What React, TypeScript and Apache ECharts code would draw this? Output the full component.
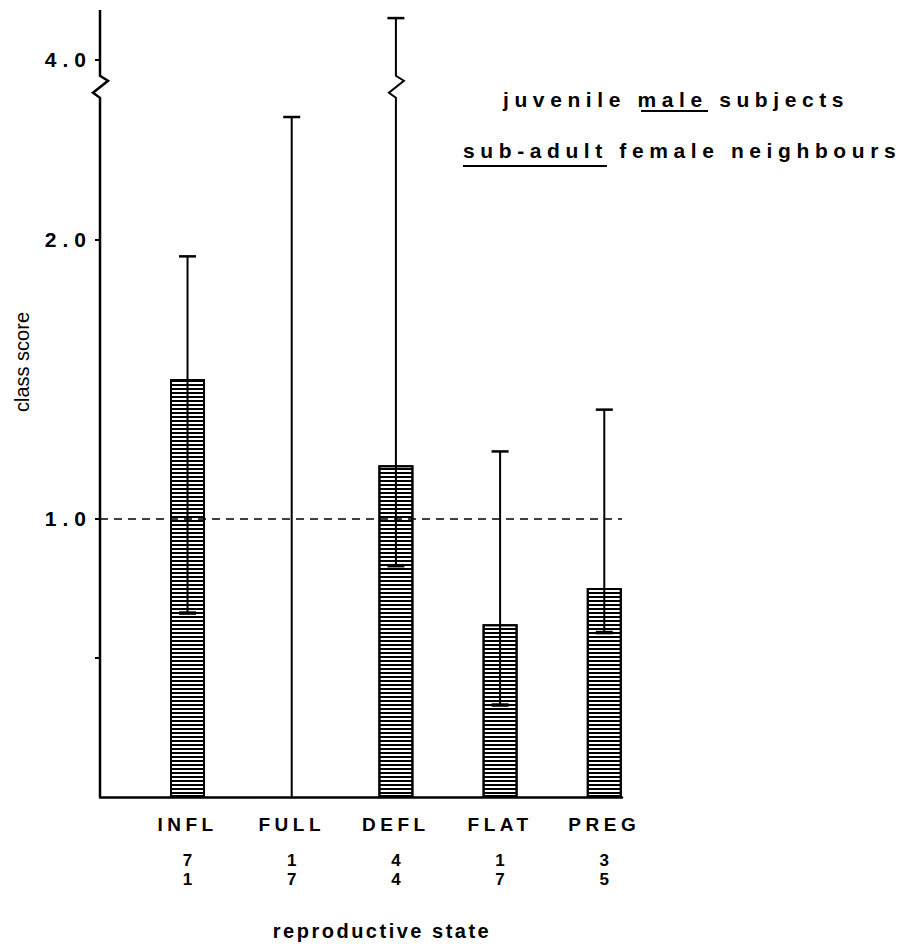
import React, { useEffect, useRef } from 'react';
import * as echarts from 'echarts';

// ---------------- data ----------------
const categories = ['INFL', 'FULL', 'DEFL', 'FLAT', 'PREG'];
const subjectCounts = [7, 1, 4, 1, 3];
const neighbourCounts = [1, 7, 4, 7, 5];
const meanScores: (number | null)[] = [1.5, null, 1.19, 0.62, 0.75];
const lowerLimits = [0.66, 0, 0.83, 0.33, 0.59];
const upperLimits = [1.94, 2.44, 4.15, 1.24, 1.39];
const yTickValues = [0.5, 1.0, 2.0, 4.0];
const yLabelValues = [1.0, 2.0, 4.0];
const referenceLevel = 1.0;
const titleLine1 = 'juvenile male subjects';
const titleLine2 = 'sub-adult female neighbours';

// ---------------- axis break (values between BREAK_FROM and BREAK_TO are cut out) ----------------
const BREAK_FROM = 2.5;
const BREAK_TO = 3.855;
const toDisplay = (v: number) => (v <= BREAK_FROM ? v : v - (BREAK_TO - BREAK_FROM));
const fromDisplay = (d: number) => (d <= BREAK_FROM ? d : d + (BREAK_TO - BREAK_FROM));
const ZIG_TOP = 2.588; // display value where the zigzag starts
const Y_MAX = 2.824;
const X_MIN = -0.84;
const X_MAX = 4.17;

const css = `
text[style*="TitleFace"] { letter-spacing: 5.6px; }
text[style*="TickFace"] { letter-spacing: 6px; }
text[style*="CatFace"] { letter-spacing: 4.5px; }
text[style*="NameFace"] { letter-spacing: 2.5px; }
`;

function zigzag(x: number, y: number): number[][] {
  return [
    [x, y],
    [x + 8, y + 5],
    [x - 7, y + 17],
    [x, y + 22],
  ];
}

export default function App() {
  const ref = useRef<HTMLDivElement>(null);

  useEffect(() => {
    if (!ref.current) return;
    const chart = echarts.init(ref.current, undefined, { renderer: 'svg' });

    const barData = categories.map((_, i) => [i, meanScores[i] == null ? null : toDisplay(meanScores[i] as number)]);
    const errData = categories.map((_, i) => [i, toDisplay(lowerLimits[i]), toDisplay(upperLimits[i])]);

    const option: any = {
      animation: false,
      backgroundColor: '#fff',
      grid: { left: 100, top: 10, width: 522, height: 788, containLabel: false },
      xAxis: {
        type: 'value',
        min: X_MIN,
        max: X_MAX,
        splitLine: { show: false },
        axisTick: { show: false },
        axisLine: { show: true, onZero: false, lineStyle: { color: '#000', width: 2.5 } },
        axisLabel: {
          customValues: categories.map((_, i) => i),
          margin: 0,
          formatter: (v: number) => {
            const i = Math.round(v);
            return `{c|${categories[i]}}\n{n|${subjectCounts[i]}}\n{n|${neighbourCounts[i]}}`;
          },
          rich: {
            c: { fontFamily: 'CatFace, Liberation Sans, sans-serif', fontWeight: 'bold', fontSize: 19, lineHeight: 54, color: '#000' },
            n: { fontFamily: 'Liberation Sans, sans-serif', fontWeight: 'bold', fontSize: 17, lineHeight: 19, color: '#000' },
          },
        },
        name: 'reproductive state',
        nameLocation: 'middle',
        nameGap: 124,
        nameTextStyle: {
          fontFamily: 'NameFace, Liberation Sans, sans-serif',
          fontWeight: 'bold',
          fontSize: 20,
          color: '#000',
          padding: [0, 0, 0, 42],
        },
      },
      yAxis: {
        type: 'value',
        min: 0,
        max: Y_MAX,
        splitLine: { show: false },
        axisLine: { show: false, onZero: false },
        axisTick: {
          show: true,
          customValues: yTickValues.map(toDisplay),
          length: 5,
          lineStyle: { color: '#000', width: 2 },
        },
        axisLabel: {
          customValues: yLabelValues.map(toDisplay),
          margin: 8,
          formatter: (v: number) => fromDisplay(v).toFixed(1),
          fontFamily: 'TickFace, Liberation Sans, sans-serif',
          fontWeight: 'bold',
          fontSize: 21,
          color: '#000',
        },
      },
      series: [
        {
          type: 'bar',
          data: barData,
          barWidth: 35,
          itemStyle: {
            color: '#fff',
            borderColor: '#000',
            borderWidth: 2,
            decal: {
              symbol: 'rect',
              symbolSize: 1,
              color: '#000',
              dashArrayX: [1, 0],
              dashArrayY: [2, 2],
              rotation: 0,
            },
          },
          markLine: {
            silent: true,
            symbol: 'none',
            label: { show: false },
            lineStyle: { color: '#000', type: [8, 6], width: 1.5 },
            data: [{ yAxis: toDisplay(referenceLevel) }],
          },
          z: 2,
        },
        {
          type: 'custom',
          name: 'error bars',
          data: errData,
          encode: { x: 0, y: [1, 2] },
          clip: false,
          z: 5,
          renderItem: (params: any, api: any) => {
            const i = api.value(0);
            const lo = api.value(1);
            const hi = api.value(2);
            const [x, yLo] = api.coord([i, lo]);
            const [, yHi] = api.coord([i, hi]);
            let pts: number[][];
            if (hi > BREAK_FROM) {
              const [, yz] = api.coord([i, ZIG_TOP]);
              pts = [[x, yHi], ...zigzag(x, yz), [x, yLo]];
            } else {
              pts = [[x, yHi], [x, yLo]];
            }
            const children: any[] = [
              { type: 'polyline', shape: { points: pts }, style: { stroke: '#000', lineWidth: 2, fill: 'none' } },
              { type: 'line', shape: { x1: x - 8.5, y1: yHi, x2: x + 8.5, y2: yHi }, style: { stroke: '#000', lineWidth: 2.5 } },
            ];
            if (lo > 0) {
              children.push({ type: 'line', shape: { x1: x - 8.5, y1: yLo, x2: x + 8.5, y2: yLo }, style: { stroke: '#000', lineWidth: 3.5 } });
            }
            return { type: 'group', children };
          },
        },
        {
          type: 'custom',
          name: 'y axis line',
          data: [[X_MIN, 0]],
          encode: { x: 0, y: 1 },
          clip: false,
          z: 6,
          renderItem: (params: any, api: any) => {
            const [x, yBottom] = api.coord([X_MIN, 0]);
            const [, yTop] = api.coord([X_MIN, Y_MAX]);
            const [, yz] = api.coord([X_MIN, ZIG_TOP]);
            const pts = [[x, yBottom], ...zigzag(x, yz).reverse(), [x, yTop]];
            return { type: 'polyline', shape: { points: pts }, style: { stroke: '#000', lineWidth: 2.5, fill: 'none' } };
          },
        },
      ],
      graphic: [
        {
          type: 'text',
          x: 503,
          y: 99,
          style: {
            text: titleLine1,
            fill: '#000',
            font: 'bold 21px TitleFace, Liberation Sans, sans-serif',
            textAlign: 'left',
            textVerticalAlign: 'middle',
          },
        },
        {
          type: 'text',
          x: 463,
          y: 150,
          style: {
            text: titleLine2,
            fill: '#000',
            font: 'bold 21px TitleFace, Liberation Sans, sans-serif',
            textAlign: 'left',
            textVerticalAlign: 'middle',
          },
        },
        { type: 'line', shape: { x1: 641, y1: 111, x2: 708, y2: 111 }, style: { stroke: '#000', lineWidth: 2 } },
        { type: 'line', shape: { x1: 463, y1: 166, x2: 607, y2: 166 }, style: { stroke: '#000', lineWidth: 2 } },
        {
          type: 'text',
          x: 22,
          y: 362,
          rotation: Math.PI / 2,
          style: {
            text: 'class score',
            fill: '#000',
            font: '20px Liberation Sans, sans-serif',
            textAlign: 'center',
            textVerticalAlign: 'middle',
          },
        },
      ],
    };

    chart.setOption(option);
    return () => chart.dispose();
  }, []);

  return (
    <>
      <style>{css}</style>
      <div
        ref={ref}
        style={{ position: 'fixed', left: 0, top: 0, width: 911, height: 946, background: '#fff' }}
      />
    </>
  );
}
